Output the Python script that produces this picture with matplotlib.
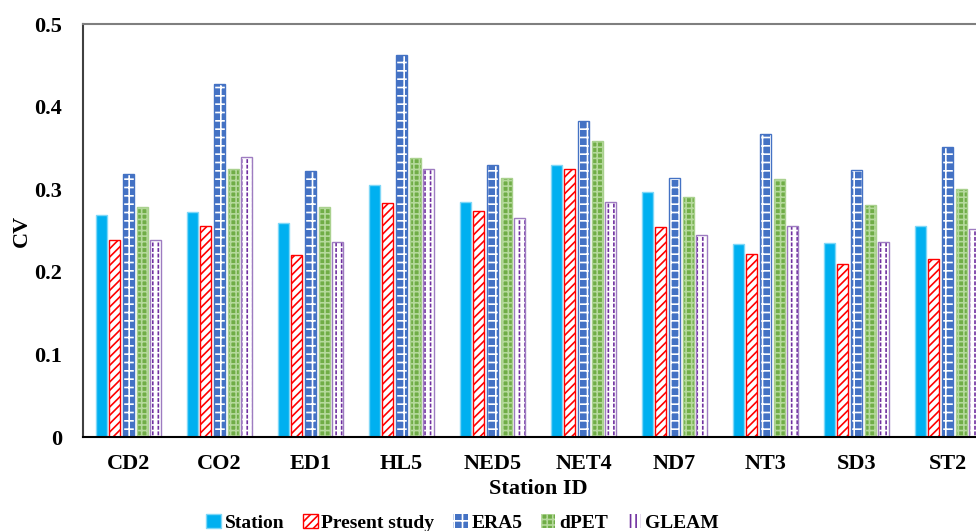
import numpy as np
import matplotlib
matplotlib.use("Agg")
import matplotlib.pyplot as plt

plt.rcParams['font.family'] = ['Liberation Serif', 'DejaVu Serif']
plt.rcParams['font.weight'] = 'bold'
plt.rcParams['hatch.linewidth'] = 1.2

stations = ["CD2", "CO2", "ED1", "HL5", "NED5", "NET4", "ND7", "NT3", "SD3", "ST2"]
station = [0.269, 0.273, 0.259, 0.305, 0.284, 0.329, 0.297, 0.234, 0.235, 0.255]
present = [0.238, 0.255, 0.220, 0.283, 0.274, 0.324, 0.254, 0.221, 0.209, 0.216]
era5 = [0.318, 0.427, 0.322, 0.463, 0.329, 0.383, 0.314, 0.367, 0.323, 0.351]
dpet = [0.278, 0.325, 0.278, 0.338, 0.313, 0.358, 0.291, 0.312, 0.281, 0.300]
gleam = [0.239, 0.339, 0.236, 0.325, 0.265, 0.285, 0.245, 0.255, 0.236, 0.252]

series = [
    ("Station", station, dict(facecolor="#00B0F0", edgecolor="#7FD7F7", hatch=None)),
    ("Present study", present, dict(facecolor="white", edgecolor="#FF0000", hatch="////")),
    ("ERA5", era5, dict(facecolor="#4472C4", edgecolor="white", hatch="++")),
    ("dPET", dpet, dict(facecolor="#70AD47", edgecolor="#B5D99C", hatch="+++")),
    ("GLEAM", gleam, dict(facecolor="white", edgecolor="#7030A0", hatch="|||")),
]
outline = {"ERA5": "#4472C4", "dPET": "#A9D18E", "GLEAM": "#9E7CC1"}

fig = plt.figure(figsize=(9.76, 5.31), dpi=100)
ax = fig.add_axes([0.085, 0.177, 0.9324, 0.7778])

x = np.arange(len(stations))
step = 0.15
width = 0.12
handles = []
for i, (name, vals, st) in enumerate(series):
    pos = x + (i - 2) * step
    lw = 0 if name in outline else 1.0
    b = ax.bar(pos, vals, width, facecolor=st["facecolor"], edgecolor=st["edgecolor"],
               hatch=st["hatch"], linewidth=lw, label=name)
    if name == "GLEAM":
        # break the vertical lines into dashes
        ax.bar(pos, vals, width, facecolor="none", edgecolor="white", hatch="---", linewidth=0)
    if name in outline:
        ax.bar(pos, vals, width, facecolor="none", edgecolor=outline[name], linewidth=1.0)
    handles.append(b)

ax.set_xlim(-0.5, len(stations) - 0.5)
ax.set_ylim(0, 0.5)
ax.set_yticks([0, 0.1, 0.2, 0.3, 0.4, 0.5])
ax.set_yticklabels(["0", "0.1", "0.2", "0.3", "0.4", "0.5"])
ax.set_xticks(x)
ax.set_xticklabels(stations)
ax.tick_params(axis="both", length=0, labelsize=16)
ax.tick_params(axis="y", pad=15)
ax.tick_params(axis="x", pad=12)

ax.spines["left"].set_color("#404040")
ax.spines["left"].set_linewidth(1.5)
ax.spines["top"].set_color("#7F7F7F")
ax.spines["top"].set_linewidth(1.5)
ax.spines["bottom"].set_color("black")
ax.spines["bottom"].set_linewidth(1.5)
ax.spines["right"].set_color("#7F7F7F")

ax.set_xlabel("Station ID", fontsize=16, fontweight="bold", labelpad=4)
fig.text(0.022, 0.566, "CV", rotation=90, fontsize=16, fontweight="bold",
         ha="center", va="center")

fig.legend(handles=handles, loc="center", bbox_to_anchor=(0.474, 0.015), ncol=5,
           frameon=False, fontsize=14, handlelength=0.75, handleheight=0.75,
           handletextpad=0.2, columnspacing=0.95)

fig.savefig("out.png", dpi=100)
